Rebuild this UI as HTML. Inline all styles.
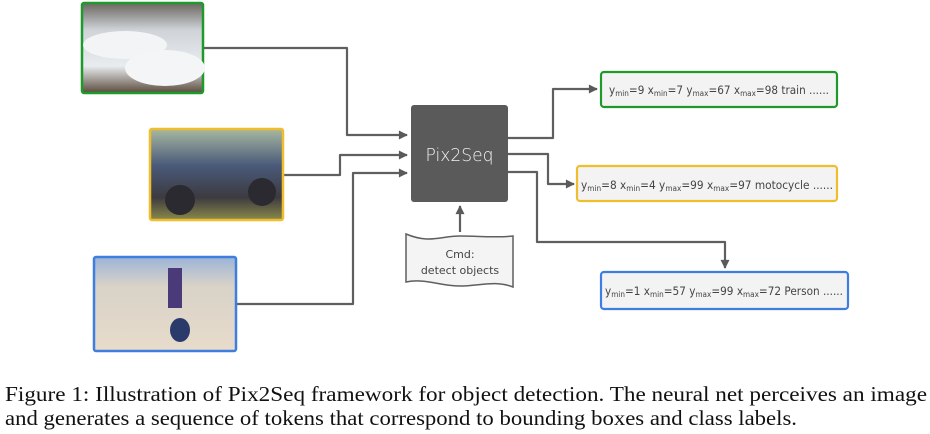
<!DOCTYPE html>
<html><head><meta charset="utf-8"><style>
html,body{margin:0;padding:0;background:#fff;width:930px;height:434px;overflow:hidden}
</style></head><body>
<svg width="930" height="434" viewBox="0 0 930 434" xmlns="http://www.w3.org/2000/svg">
<defs>
<marker id="ah" viewBox="0 0 10 10" refX="9" refY="5" markerWidth="11" markerHeight="9" orient="auto" markerUnits="userSpaceOnUse"><path d="M0,0 L10,5 L0,10 z" fill="#5a5a5a"/></marker>
<linearGradient id="tr" x1="0" y1="0" x2="0" y2="1"><stop offset="0" stop-color="#6b6660"/><stop offset="0.3" stop-color="#cfd3d8"/><stop offset="0.7" stop-color="#e9ecef"/><stop offset="1" stop-color="#5a4a3c"/></linearGradient>
<linearGradient id="mo" x1="0" y1="0" x2="0" y2="1"><stop offset="0" stop-color="#a8b8a0"/><stop offset="0.4" stop-color="#4a5a7a"/><stop offset="0.75" stop-color="#3c3a40"/><stop offset="1" stop-color="#8a8a4a"/></linearGradient>
<linearGradient id="pe" x1="0" y1="0" x2="0" y2="1"><stop offset="0" stop-color="#9bb4d8"/><stop offset="0.3" stop-color="#d8d2c8"/><stop offset="1" stop-color="#e8dccb"/></linearGradient>
</defs>
<g fill="none" stroke="#5f5f5f" stroke-width="2.2" stroke-linejoin="round">
<path d="M203,48 H347 V135 H407" marker-end="url(#ah)"/>
<path d="M283,175 H340 V155 H407" marker-end="url(#ah)"/>
<path d="M236,304 H353 V173 H407" marker-end="url(#ah)"/>
<path d="M460,232 V206" marker-end="url(#ah)"/>
<path d="M508,138 H553 V89 H597" marker-end="url(#ah)"/>
<path d="M508,154 H548 V184 H574" marker-end="url(#ah)"/>
<path d="M508,172 H537 V242 H725 V268" marker-end="url(#ah)"/>
</g>
<rect x="82" y="3" width="121" height="90" rx="2" fill="url(#tr)" stroke="#1e9a2a" stroke-width="2.5"/>
<ellipse cx="125" cy="45" rx="42" ry="14" fill="#f2f4f6"/>
<ellipse cx="165" cy="68" rx="40" ry="18" fill="#f4f5f7"/>
<rect x="150" y="129" width="133" height="91" rx="2" fill="url(#mo)" stroke="#f0be2c" stroke-width="2.5"/>
<circle cx="180" cy="200" r="15" fill="#2a2a30"/><circle cx="262" cy="192" r="14" fill="#2a2a30"/>
<rect x="94" y="257" width="142" height="94" rx="2" fill="url(#pe)" stroke="#3d7ee0" stroke-width="2.5"/>
<rect x="168" y="268" width="14" height="40" fill="#4a3a7a"/>
<ellipse cx="180" cy="330" rx="10" ry="12" fill="#2a3a6a"/>
<rect x="411" y="105" width="97" height="97" rx="3" fill="#5a5a5a"/>
<text x="459.5" y="161" font-family="DejaVu Sans, Liberation Sans, sans-serif" font-size="18" font-weight="300" fill="#f2f2f2" text-anchor="middle" textLength="68" lengthAdjust="spacingAndGlyphs">Pix2Seq</text>
<path d="M406,234 C430,244 440,236 460,236 C480,236 495,238 513,236 V287 C495,280 480,286 460,286 C440,286 425,278 406,282 Z" fill="#f4f4f4" stroke="#5f5f5f" stroke-width="1.5"/>
<text x="460" y="258" font-family="DejaVu Sans, Liberation Sans, sans-serif" font-size="11" fill="#444" text-anchor="middle">Cmd:</text>
<text x="460" y="274" font-family="DejaVu Sans, Liberation Sans, sans-serif" font-size="11" fill="#444" text-anchor="middle">detect objects</text>
<g font-family="DejaVu Sans, Liberation Sans, sans-serif" font-size="11.5" fill="#444">
<rect x="601" y="72" width="236" height="35" rx="3" fill="#f3f3f3" stroke="#1e9a2a" stroke-width="2.2"/>
<text x="609" y="94" textLength="220" lengthAdjust="spacingAndGlyphs">y<tspan font-size="8" dy="2">min</tspan><tspan dy="-2">=9 x</tspan><tspan font-size="8" dy="2">min</tspan><tspan dy="-2">=7 y</tspan><tspan font-size="8" dy="2">max</tspan><tspan dy="-2">=67 x</tspan><tspan font-size="8" dy="2">max</tspan><tspan dy="-2">=98 train ......</tspan></text>
<rect x="577" y="166" width="260" height="35" rx="3" fill="#f3f3f3" stroke="#f0be2c" stroke-width="2.2"/>
<text x="581" y="189" textLength="252" lengthAdjust="spacingAndGlyphs">y<tspan font-size="8" dy="2">min</tspan><tspan dy="-2">=8 x</tspan><tspan font-size="8" dy="2">min</tspan><tspan dy="-2">=4 y</tspan><tspan font-size="8" dy="2">max</tspan><tspan dy="-2">=99 x</tspan><tspan font-size="8" dy="2">max</tspan><tspan dy="-2">=97 motocycle ......</tspan></text>
<rect x="601" y="272" width="247" height="37" rx="3" fill="#f3f3f3" stroke="#3d7ee0" stroke-width="2.2"/>
<text x="605" y="295" textLength="238" lengthAdjust="spacingAndGlyphs">y<tspan font-size="8" dy="2">min</tspan><tspan dy="-2">=1 x</tspan><tspan font-size="8" dy="2">min</tspan><tspan dy="-2">=57 y</tspan><tspan font-size="8" dy="2">max</tspan><tspan dy="-2">=99 x</tspan><tspan font-size="8" dy="2">max</tspan><tspan dy="-2">=72 Person ......</tspan></text>
</g>
<g font-family="Liberation Serif, serif" font-size="21" fill="#111">
<text x="5" y="401" textLength="922" lengthAdjust="spacingAndGlyphs">Figure 1: Illustration of Pix2Seq framework for object detection. The neural net perceives an image</text>
<text x="5" y="425" textLength="792" lengthAdjust="spacingAndGlyphs">and generates a sequence of tokens that correspond to bounding boxes and class labels.</text>
</g>
</svg>
</body></html>
